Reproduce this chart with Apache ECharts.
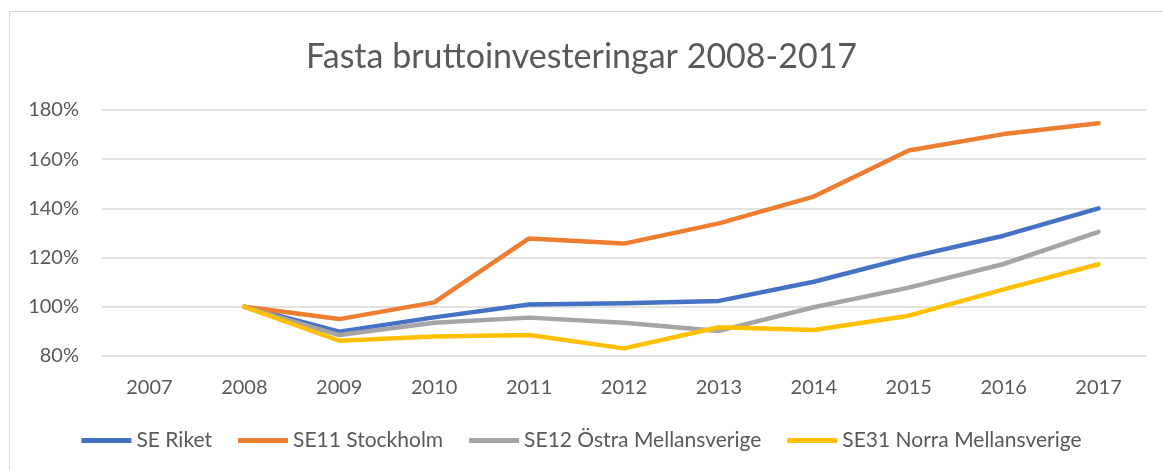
<!DOCTYPE html>
<html>
<head>
<meta charset="utf-8">
<script src="https://cdn.jsdelivr.net/npm/echarts@6/dist/echarts.min.js"></script>
<style>
  html, body { margin: 0; padding: 0; background: #fff; }
  #frame {
    position: absolute; left: 9px; top: 11px; width: 1154px; height: 459px;
    border-left: 1px solid #d9d9d9; border-top: 1px solid #d9d9d9;
  }
  #chart { position: absolute; left: 0; top: 0; width: 1163px; height: 470px; }
</style>
</head>
<body>
<div id="frame"></div>
<div id="chart"></div>
<script>
// år
var years = ['2007', '2008', '2009', '2010', '2011', '2012', '2013', '2014', '2015', '2016', '2017']
// index 2008 = 100 %
var riket = [null, 100, 89.9, 95.7, 100.9, 101.4, 102.4, 110.2, 120.1, 128.9, 140.0]
var stockholm = [null, 100, 95.0, 101.8, 127.8, 125.7, 133.9, 144.8, 163.5, 170.2, 174.6]
var ostra = [null, 100, 88.5, 93.5, 95.6, 93.5, 90.2, 99.8, 107.8, 117.4, 130.5]
var norra = [null, 100, 86.2, 87.9, 88.5, 83.1, 91.7, 90.6, 96.4, 107.1, 117.3]

var font = 'Lato, "Open Sans", sans-serif'
var textColor = '#595959'

function line (name, data, color) {
  return {
    name: name,
    type: 'line',
    data: data,
    symbol: 'none',
    lineStyle: { width: 4.5, color: color, cap: 'round', join: 'round' },
    itemStyle: { color: color }
  }
}

var myChart = echarts.init(document.getElementById('chart'))
var option = {
  animation: false,
  textStyle: { fontFamily: font },
  title: {
    text: 'Fasta bruttoinvesteringar 2008-2017',
    left: 'center',
    top: 35,
    textStyle: { fontSize: 34, fontWeight: 'normal', color: textColor, fontFamily: font }
  },
  legend: {
    bottom: 14,
    left: 'center',
    icon: 'rect',
    itemWidth: 50,
    itemHeight: 5,
    itemGap: 26,
    textStyle: { fontSize: 21, color: textColor, fontFamily: font },
    data: ['SE Riket', 'SE11 Stockholm', 'SE12 Östra Mellansverige', 'SE31 Norra Mellansverige']
  },
  grid: { left: 102, right: 17, top: 110, bottom: 114, containLabel: false },
  xAxis: {
    type: 'category',
    data: years,
    boundaryGap: true,
    axisLine: { show: false },
    axisTick: { show: false },
    axisLabel: { fontSize: 20, color: textColor, margin: 22, fontFamily: font }
  },
  yAxis: {
    type: 'value',
    min: 80,
    max: 180,
    interval: 20,
    axisLine: { show: false },
    axisTick: { show: false },
    splitLine: { lineStyle: { color: '#d9d9d9', width: 1.5 } },
    axisLabel: { fontSize: 20, color: textColor, margin: 23, formatter: '{value}%', fontFamily: font }
  },
  series: [
    line('SE Riket', riket, '#4472c4'),
    line('SE11 Stockholm', stockholm, '#ed7d31'),
    line('SE12 Östra Mellansverige', ostra, '#a5a5a5'),
    line('SE31 Norra Mellansverige', norra, '#ffc000')
  ]
}
myChart.setOption(option)
</script>
</body>
</html>
